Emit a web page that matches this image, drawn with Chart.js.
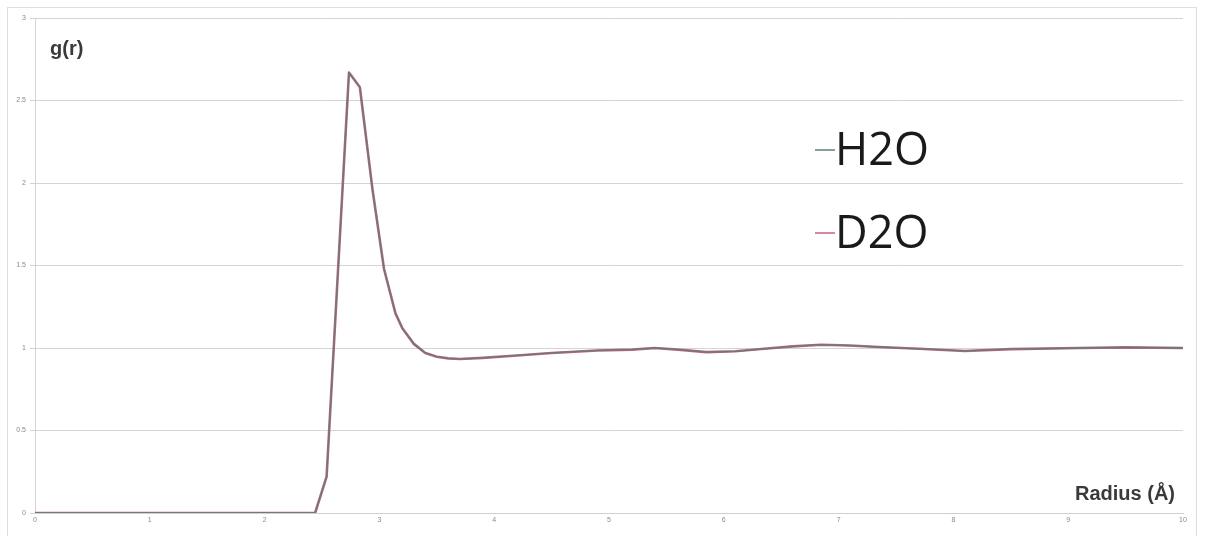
<!DOCTYPE html>
<html>
<head>
<meta charset="utf-8">
<script src="https://cdn.jsdelivr.net/npm/chart.js@4.4.1/dist/chart.umd.min.js"></script>
<style>
  html, body { margin: 0; padding: 0; background: #ffffff; }
  #wrap { position: relative; width: 1205px; height: 536px; overflow: hidden; }
  #frame { position: absolute; left: 7px; top: 7px; width: 1190px; height: 540px; border: 1px solid #dedede; box-sizing: border-box; }
  canvas { position: absolute; left: 0; top: 0; }
</style>
</head>
<body>
<div id="wrap">
  <div id="frame"></div>
  <canvas id="gr" width="1205" height="536"></canvas>
</div>
<script>
// Radial distribution function g(r) of oxygen pairs, light vs heavy water
const radius = [0, 2.44, 2.54, 2.735, 2.83, 2.94, 3.04, 3.14, 3.2, 3.3, 3.4, 3.5, 3.6, 3.7, 3.9, 4.2, 4.5, 4.9, 5.2, 5.4, 5.6, 5.85, 6.1, 6.35, 6.6, 6.85, 7.1, 7.35, 7.7, 8.1, 8.5, 9.1, 9.5, 10];
const gH2O = [0, 0, 0.22, 2.67, 2.58, 1.96, 1.48, 1.21, 1.12, 1.025, 0.97, 0.947, 0.937, 0.933, 0.94, 0.955, 0.97, 0.985, 0.99, 1.0, 0.99, 0.975, 0.98, 0.995, 1.01, 1.02, 1.015, 1.006, 0.995, 0.982, 0.993, 1.0, 1.004, 1.0];
const gD2O = [0, 0, 0.22, 2.67, 2.58, 1.96, 1.48, 1.21, 1.12, 1.025, 0.97, 0.947, 0.937, 0.933, 0.94, 0.955, 0.97, 0.985, 0.99, 1.0, 0.99, 0.975, 0.98, 0.995, 1.01, 1.02, 1.015, 1.006, 0.995, 0.982, 0.993, 1.0, 1.004, 1.0];
const xTickValues = [0, 1, 2, 3, 4, 5, 6, 7, 8, 9, 10];
const yTickValues = [0, 0.5, 1, 1.5, 2, 2.5, 3];
const seriesNames = ['H2O', 'D2O'];
const seriesColors = ['#5d7f7c', '#c8607e'];

const toPoints = (ys) => radius.map((r, i) => ({ x: r, y: ys[i] }));

// Axis captions and the large in-plot legend
const annotations = {
  id: 'annotations',
  afterDraw(chart) {
    const { ctx } = chart;
    ctx.save();
    ctx.fillStyle = '#3a3a3a';
    ctx.font = 'bold 20px "Liberation Sans", Arial, sans-serif';
    ctx.textBaseline = 'alphabetic';
    ctx.textAlign = 'left';
    ctx.fillText('g(r)', 50, 55);
    ctx.textAlign = 'right';
    ctx.fillText('Radius (\u00C5)', 1175, 500);

    const items = [
      { label: chart.data.datasets[0].label, color: seriesColors[0], y: 150 },
      { label: chart.data.datasets[1].label, color: seriesColors[1], y: 233 }
    ];
    ctx.font = '45px "Open Sans", sans-serif';
    ctx.textAlign = 'left';
    ctx.textBaseline = 'middle';
    items.forEach(it => {
      ctx.strokeStyle = it.color;
      ctx.lineWidth = 1.5;
      ctx.beginPath();
      ctx.moveTo(815, it.y);
      ctx.lineTo(835, it.y);
      ctx.stroke();
      ctx.fillStyle = '#1a1a1a';
      ctx.fillText(it.label, 835, it.y + 2);
    });
    ctx.restore();
  }
};

new Chart(document.getElementById('gr'), {
  type: 'line',
  data: {
    datasets: [
      {
        label: seriesNames[0],
        data: toPoints(gH2O),
        borderColor: seriesColors[0],
        borderWidth: 1.3,
        pointRadius: 0,
        tension: 0,
        borderJoinStyle: 'round',
        order: 1
      },
      {
        label: seriesNames[1],
        data: toPoints(gD2O),
        borderColor: seriesColors[1],
        borderWidth: 2.6,
        pointRadius: 0,
        tension: 0,
        borderJoinStyle: 'round',
        order: 2
      }
    ]
  },
  options: {
    responsive: false,
    animation: false,
    layout: { padding: { left: 0, right: 22, top: 18, bottom: 0 } },
    plugins: { legend: { display: false }, tooltip: { enabled: false } },
    scales: {
      x: {
        type: 'linear',
        min: 0, max: 10,
        afterBuildTicks(scale) { scale.ticks = xTickValues.map(v => ({ value: v })); },
        afterFit(scale) { scale.height = 23; },
        ticks: { color: '#8a8a8a', font: { size: 7, family: '"Liberation Sans", Arial' }, padding: 3, callback: v => String(v) },
        grid: { display: false, drawTicks: false },
        border: { color: '#cfcfcf', width: 1 }
      },
      y: {
        min: 0, max: 3,
        afterBuildTicks(scale) { scale.ticks = yTickValues.map(v => ({ value: v })); },
        afterFit(scale) { scale.width = 35; },
        ticks: { color: '#8a8a8a', font: { size: 7, family: '"Liberation Sans", Arial' }, padding: 4, callback: v => String(v) },
        grid: { color: '#d4d4d4', lineWidth: 1, tickLength: 5, tickColor: '#d4d4d4' },
        border: { color: '#d4d4d4', width: 1 }
      }
    }
  },
  plugins: [annotations]
});
</script>
</body>
</html>
